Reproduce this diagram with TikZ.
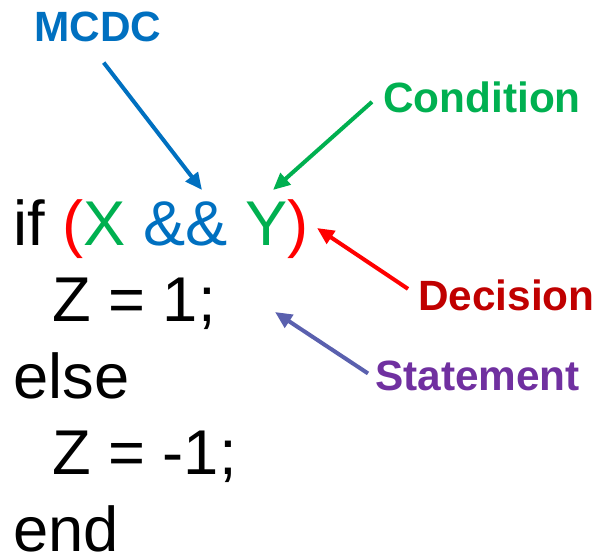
\documentclass[tikz,border=0pt]{standalone}
\usepackage{fontspec}
\setmainfont{Liberation Sans}
\usetikzlibrary{arrows.meta}

\definecolor{mcdcblue}{HTML}{0070C0}
\definecolor{condgreen}{HTML}{00B050}
\definecolor{decred}{HTML}{C00000}
\definecolor{parenred}{HTML}{FF0000}
\definecolor{stmtpurple}{HTML}{7030A0}
\definecolor{stmtarrow}{HTML}{5A60AE}

\begin{document}
\begin{tikzpicture}[x=1bp,y=-1bp]
    \tikzstyle{code} = [anchor=base west, inner sep=0pt, font=\fontsize{63.5}{70}\selectfont]
    \tikzstyle{tag} = [anchor=base west, inner sep=0pt, font=\bfseries\fontsize{42.5}{48}\selectfont]
    \tikzstyle{pointer} = [line width=4bp, -{Triangle[length=17bp, width=15bp]},
      preaction={draw=black, opacity=0.18, transform canvas={shift={(1.5bp,-2bp)}}}]

    \useasboundingbox (0,0) rectangle (600,556);

      % the code lines
      \path
        (13, 245) node[code] (if){if \textcolor{parenred}{(}\textcolor{condgreen}{X} \textcolor{mcdcblue}{\&\&} \textcolor{condgreen}{Y}\textcolor{parenred}{)}}
        (52, 321.5) node[code] (then){Z = 1;}
        (13, 398) node[code] (else){else}
        (52, 474.5) node[code] (other){Z = -1;}
        (13, 551) node[code] (end){end};

      % the labels
      \path
        (34, 42) node[tag, text=mcdcblue] (mcdc){MCDC}
        (383, 113) node[tag, text=condgreen] (cond){Condition}
        (418, 310) node[tag, text=decred] (dec){Decision}
        (375, 390) node[tag, text=stmtpurple] (stmt){Statement};

      % where the arrows point
      \coordinate (andtip) at (202, 190);
      \coordinate (ytip) at (273, 190);
      \coordinate (parentip) at (317, 228);
      \coordinate (stmttip) at (275, 312);

      \begin{scope}[pointer]
        \draw[mcdcblue] ([shift={(6,20)}]mcdc.south) -- (andtip);
        \draw[condgreen] ([shift={(-11,4)}]cond.west) -- (ytip);
        \draw[parenred] ([shift={(-10,-6)}]dec.west) -- (parentip);
        \draw[stmtarrow] ([shift={(-7,-2)}]stmt.west) -- (stmttip);
      \end{scope}
    \end{tikzpicture}
\end{document}
